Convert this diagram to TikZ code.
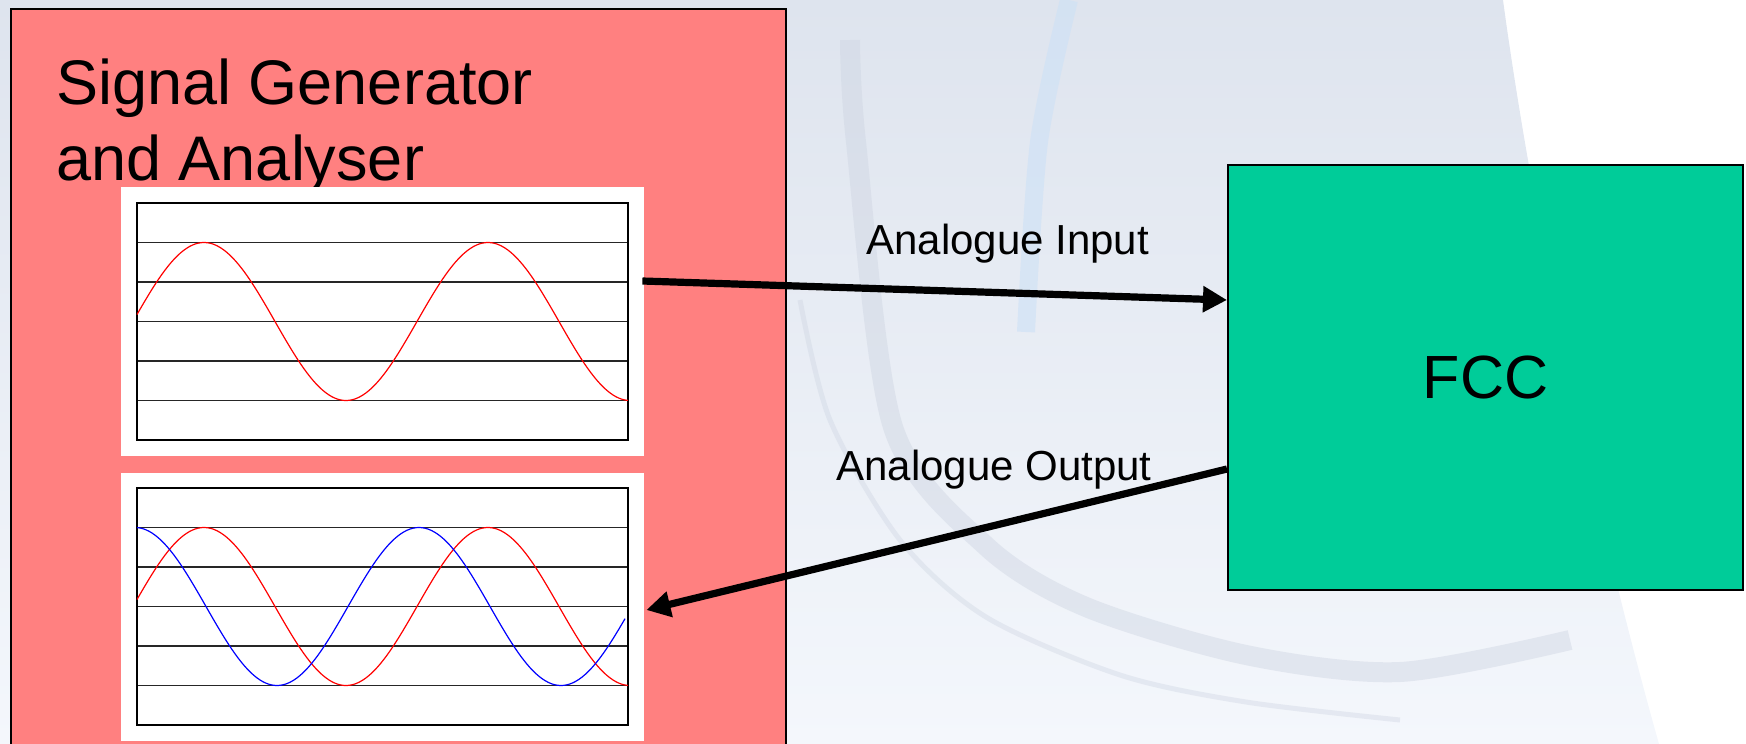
\documentclass[tikz,border=0pt]{standalone}
\usepackage{fontspec}
\setmainfont{Liberation Sans}
\usetikzlibrary{arrows.meta,calc}
\definecolor{sgred}{RGB}{255,128,128}
\definecolor{fccgreen}{RGB}{0,204,153}
\definecolor{bgtop}{RGB}{222,228,238}
\definecolor{bgbot}{RGB}{244,247,252}
\definecolor{bgband}{RGB}{206,213,226}
\definecolor{bglight}{RGB}{205,225,246}
\tikzset{
  sgbox/.style={draw=black, line width=0.75pt, fill=sgred, inner sep=0pt,
    minimum width=387.5pt, minimum height=375.5pt},
  fccbox/.style={draw=black, line width=1pt, fill=fccgreen, inner sep=0pt,
    minimum width=257.5pt, minimum height=212.5pt,
    font=\fontsize{30.5pt}{36pt}\selectfont},
  panel/.style={fill=white, draw=none, inner sep=0pt,
    minimum width=261.5pt, minimum height=134.5pt},
  frameline/.style={draw=black, line width=0.8pt},
  gridline/.style={draw=black!85, line width=0.55pt},
  wavered/.style={draw=red, line width=0.6pt},
  waveblue/.style={draw=blue, line width=0.6pt},
  sigarrow/.style={draw=black, line width=3.6pt,
    -{Triangle[length=12pt,width=12.5pt]}},
  lbl/.style={inner sep=0pt, font=\fontsize{21pt}{25pt}\selectfont},
  title/.style={inner sep=0pt, align=left, font=\fontsize{31.5pt}{38pt}\selectfont}
}
\begin{document}
\begin{tikzpicture}[x=0.5pt,y=-0.5pt]
\useasboundingbox (0,0) rectangle (1746,744);
% background of the slide
\shade[top color=bgtop, bottom color=bgbot] (0,0) -- (1503,0) .. controls (1530,200) and (1590,500) .. (1659,744) -- (0,744) -- cycle;
\begin{scope}
  \clip (0,0) -- (1503,0) .. controls (1530,200) and (1590,500) .. (1659,744) -- (0,744) -- cycle;
  \draw[bgband, line width=10pt, opacity=0.45] plot[smooth] coordinates {(850,40) (856,142) (893,427) (986,546) (1086,607) (1246,655) (1400,672) (1570,640)};
  \draw[bgband, line width=2.5pt, opacity=0.4] plot[smooth] coordinates {(800,300) (830,420) (900,540) (986,617) (1120,675) (1246,702) (1400,720)};
  \draw[bglight, line width=9pt, opacity=0.6] plot[smooth] coordinates {(1069,0) (1039,142) (1026,332)};
\end{scope}
% signal generator box
\node[sgbox] (sg) at (398.5,384.5) {};
\node[title, anchor=base west] (sgtitle) at (56,180) {Signal Generator\\and Analyser};
% top panel
\node[panel] (tp) at (382.5,321.5) {};
\foreach \k in {1,...,5} { \draw[gridline] (137,{203+39.5*\k}) -- (628,{203+39.5*\k}); }
\draw[frameline] (137,203) rectangle (628,440);
\draw[wavered] plot[domain=137:628, samples=160] (\x,{321.5-79*cos((\x-204)/284*360)});
% bottom panel
\node[panel, minimum height=134pt] (bp) at (382.5,607) {};
\foreach \k in {1,...,5} { \draw[gridline] (137,{488+39.5*\k}) -- (628,{488+39.5*\k}); }
\draw[frameline] (137,488) rectangle (628,725);
\draw[wavered] plot[domain=137:628, samples=160] (\x,{606.5-79*cos((\x-204)/284*360)});
\draw[waveblue] plot[domain=137:625, samples=160] (\x,{606.5-79*cos((\x-135)/284*360)});
% FCC
\node[fccbox] (fcc) at (1485.5,377.5) {FCC};
% labels
\node[lbl, anchor=base west] (lin) at (866,254) {Analogue Input};
\node[lbl, anchor=base west] (lout) at (836,480) {Analogue Output};
% connectors
\draw[sigarrow] ($(tp.east)+(-2,-40.5)$) -- ($(fcc.north west)+(0,136)$);
\draw[sigarrow] ($(fcc.north west)+(0,305)$) -- ($(bp.east)+(2,3)$);
\end{tikzpicture}
\end{document}
